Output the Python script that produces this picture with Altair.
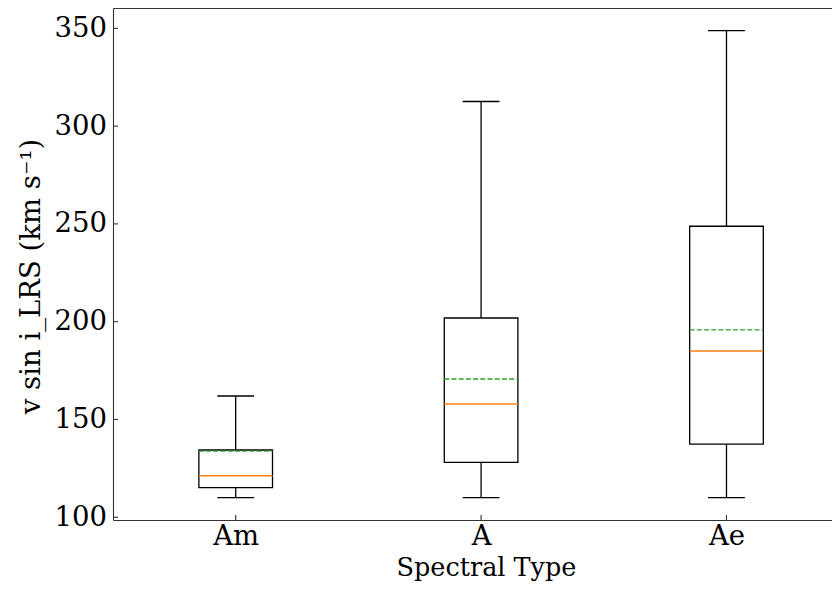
import altair as alt
import pandas as pd

# ---- data ----
categories = ["Am", "A", "Ae"]
whisker_low = [110.0, 110.0, 110.0]
q1 = [115.2, 128.1, 137.4]
median = [121.2, 157.9, 185.0]
mean = [133.8, 170.7, 195.8]
q3 = [134.4, 201.9, 248.8]
whisker_high = [162.0, 312.6, 348.8]
y_ticks = [100, 150, 200, 250, 300, 350]

positions = list(range(1, len(categories) + 1))

df = pd.DataFrame({
    "cat": categories,
    "pos": positions,
    "lo": whisker_low,
    "q1": q1,
    "med": median,
    "mean": mean,
    "q3": q3,
    "hi": whisker_high,
})

FONT = "DejaVu Serif"
FS = 27.5
W, H = 719, 512

xscale = alt.Scale(domain=[0.5, 3.430], nice=False, zero=False)
yscale = alt.Scale(domain=[98.6, 360.4], nice=False, zero=False)

label_expr = " : ".join(
    [f"datum.value == {p} ? '{c}'" for p, c in zip(positions, categories)]
) + " : ''"

x_bottom_axis = alt.Axis(
    orient="bottom", values=positions, labelExpr=label_expr, ticks=False, tickSize=0,
    grid=False, domain=True, domainColor="#333333", domainWidth=1.1,
    labelFont=FONT, labelFontSize=FS, labelColor="#000000", labelBaseline="alphabetic",
    labelPadding=24.5, labelAngle=0,
    title="Spectral Type", titleFont=FONT, titleFontSize=25.5, titleFontWeight="normal",
    titleColor="#000000", titleX=373, titleY=55, titleBaseline="alphabetic", titleAlign="center",
)
y_axis = alt.Axis(
    orient="left", values=y_ticks, ticks=False, tickSize=0, grid=False, domain=True,
    domainColor="#333333", domainWidth=1.1,
    labelFont=FONT, labelFontSize=FS, labelColor="#000000", labelPadding=6.5,
    labelAlign="right", labelBaseline="middle",
    title="v sin i_LRS (km s⁻¹)", titleFont=FONT, titleFontSize=FS, titleFontWeight="normal",
    titleColor="#000000", titleAngle=270, titleX=-73.5, titleY=268,
    titleBaseline="alphabetic", titleAlign="center",
)

base = alt.Chart(df).transform_calculate(
    bl="datum.pos - 0.15", br="datum.pos + 0.15",
    cl="datum.pos - 0.075", cr="datum.pos + 0.075",
)

box = base.mark_bar(fill="white", stroke="black", strokeWidth=1.3).encode(
    x=alt.X("bl:Q", scale=xscale, axis=x_bottom_axis),
    x2="br:Q",
    y=alt.Y("q1:Q", scale=yscale, axis=y_axis),
    y2="q3:Q",
)

whisk_low = base.mark_rule(color="black", strokeWidth=1.3).encode(
    x=alt.X("pos:Q", scale=xscale, axis=None),
    y=alt.Y("lo:Q", scale=yscale, axis=None), y2="q1:Q",
)
whisk_high = base.mark_rule(color="black", strokeWidth=1.3).encode(
    x=alt.X("pos:Q", scale=xscale, axis=None),
    y=alt.Y("q3:Q", scale=yscale, axis=None), y2="hi:Q",
)
cap_low = base.mark_rule(color="black", strokeWidth=1.3).encode(
    x=alt.X("cl:Q", scale=xscale, axis=None), x2="cr:Q",
    y=alt.Y("lo:Q", scale=yscale, axis=None),
)
cap_high = base.mark_rule(color="black", strokeWidth=1.3).encode(
    x=alt.X("cl:Q", scale=xscale, axis=None), x2="cr:Q",
    y=alt.Y("hi:Q", scale=yscale, axis=None),
)
med_line = base.mark_rule(color="#ff7f0e", strokeWidth=1.4).encode(
    x=alt.X("bl:Q", scale=xscale, axis=None), x2="br:Q",
    y=alt.Y("med:Q", scale=yscale, axis=None),
)
mean_line = base.mark_rule(color="#2ca02c", strokeWidth=1.4, strokeDash=[5, 2.2]).encode(
    x=alt.X("bl:Q", scale=xscale, axis=None), x2="br:Q",
    y=alt.Y("mean:Q", scale=yscale, axis=None),
)

# inward ticks
ytick_df = pd.DataFrame({"v": y_ticks})
ytick_layer = alt.Chart(ytick_df).mark_rule(color="#333333", strokeWidth=1.1).encode(
    y=alt.Y("v:Q", scale=yscale, axis=None),
    x=alt.value(0), x2=alt.value(5),
)
xtick_df = pd.DataFrame({"p": positions})
xtick_layer = alt.Chart(xtick_df).mark_rule(color="#333333", strokeWidth=1.1).encode(
    x=alt.X("p:Q", scale=xscale, axis=alt.Axis(
        orient="top", labels=False, ticks=False, tickSize=0, grid=False, title=None,
        domain=True, domainColor="#333333", domainWidth=1.1)),
    y=alt.value(H), y2=alt.value(H - 5),
)

chart = alt.layer(
    box, whisk_low, whisk_high, cap_low, cap_high, med_line, mean_line,
    ytick_layer, xtick_layer,
).resolve_axis(x="independent", y="independent").properties(
    width=W, height=H,
    padding={"left": 105, "top": 0, "right": 0, "bottom": 62},
    autosize=alt.AutoSizeParams(type="none"),
    background="white",
).configure_view(strokeWidth=0)

chart.save("out.html", embed_options={"renderer": "svg", "actions": False})
